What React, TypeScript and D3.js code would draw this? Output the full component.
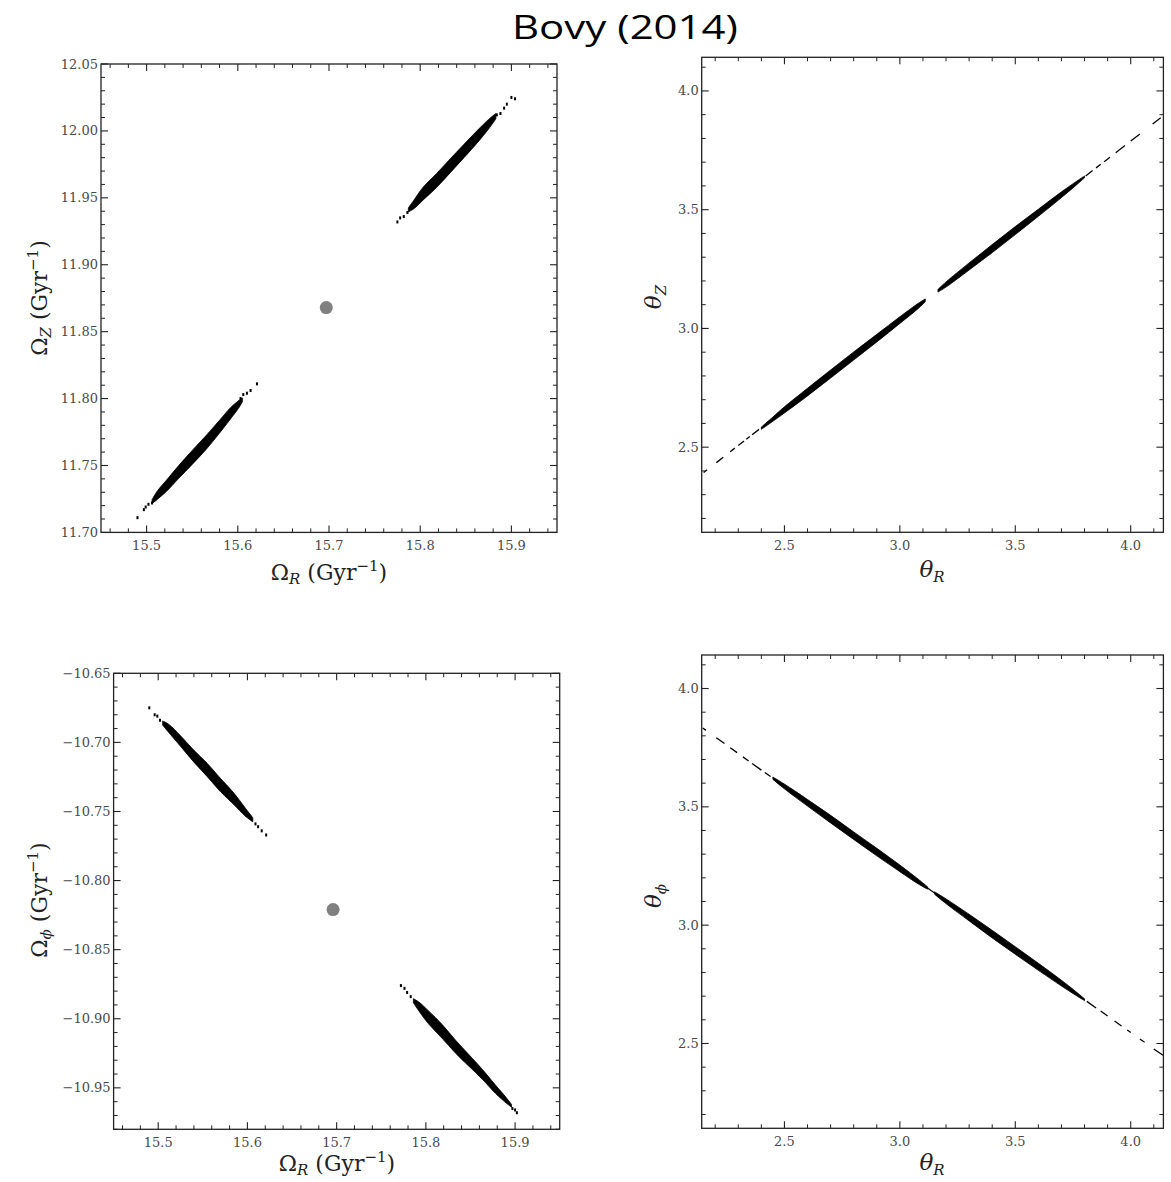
import React from "react";
import * as d3 from "d3";

const W = 1171;
const H = 1182;
const PI = Math.PI;

// ---------- tick labels ----------
const omegaRTicks = [15.5, 15.6, 15.7, 15.8, 15.9];
const omegaZTicks = [11.7, 11.75, 11.8, 11.85, 11.9, 11.95, 12.0, 12.05];
const omegaPhiTicks = [-10.95, -10.9, -10.85, -10.8, -10.75, -10.7, -10.65];
const thetaTicks = [2.5, 3.0, 3.5, 4.0];

// ---------- progenitor ----------
const progOmegaR = [15.697, 15.696];
const progOmegaZ = 11.868;
const progOmegaPhi = -10.821;

// ---------- frequency-space stream bands: [x, yCentre, halfSpread] ----------
const zLeadBand = [
  [15.506, 11.723, 0.0015], [15.512, 11.728, 0.0032], [15.522, 11.735, 0.0042],
  [15.535, 11.745, 0.0048], [15.55, 11.756, 0.0052], [15.565, 11.767, 0.0052],
  [15.58, 11.779, 0.0048], [15.592, 11.789, 0.0042], [15.6, 11.795, 0.003],
  [15.605, 11.799, 0.0015],
];
const zTrailBand = [
  [15.787, 11.941, 0.0015], [15.793, 11.945, 0.0032], [15.803, 11.953, 0.0048],
  [15.818, 11.963, 0.0052], [15.833, 11.974, 0.0052], [15.848, 11.985, 0.005],
  [15.863, 11.996, 0.0046], [15.875, 12.005, 0.0036], [15.883, 12.011, 0.002],
];
const zSparse = [
  [15.49, 11.711], [15.497, 11.717], [15.499, 11.719], [15.502, 11.721],
  [15.506, 11.722], [15.509, 11.726], [15.603, 11.8], [15.606, 11.803],
  [15.61, 11.804], [15.614, 11.806], [15.621, 11.811],
  [15.775, 11.932], [15.778, 11.935], [15.782, 11.936], [15.786, 11.939],
  [15.884, 12.012], [15.888, 12.013], [15.892, 12.017], [15.895, 12.02],
  [15.9, 12.025], [15.904, 12.024],
];

const phiLeadBand = [
  [15.505, -10.686, 0.0015], [15.512, -10.69, 0.003], [15.525, -10.699, 0.0038],
  [15.54, -10.71, 0.0043], [15.555, -10.72, 0.0048], [15.57, -10.731, 0.0048],
  [15.585, -10.741, 0.0042], [15.597, -10.75, 0.003], [15.606, -10.756, 0.0015],
];
const phiTrailBand = [
  [15.786, -10.887, 0.0015], [15.792, -10.891, 0.0032], [15.803, -10.899, 0.0047],
  [15.818, -10.909, 0.005], [15.833, -10.92, 0.0047], [15.848, -10.93, 0.0042],
  [15.863, -10.94, 0.0036], [15.878, -10.951, 0.003], [15.89, -10.959, 0.002],
  [15.896, -10.963, 0.001],
];
const phiSparse = [
  [15.49, -10.675], [15.496, -10.68], [15.499, -10.681], [15.502, -10.684],
  [15.609, -10.759], [15.612, -10.761], [15.616, -10.764], [15.621, -10.767],
  [15.772, -10.876], [15.776, -10.878], [15.779, -10.881], [15.783, -10.884],
  [15.897, -10.965], [15.9, -10.966], [15.902, -10.968],
];

// ---------- angle-space stream bands: [thetaR, thetaCentre, halfSpread] ----------
const thZLower = [
  [2.4, 2.58, 0.005], [2.45, 2.618, 0.009], [2.5, 2.657, 0.013], [2.6, 2.732, 0.016],
  [2.7, 2.808, 0.017], [2.8, 2.884, 0.017], [2.9, 2.959, 0.016], [3.0, 3.035, 0.014],
  [3.08, 3.095, 0.011], [3.11, 3.118, 0.006],
];
const thZUpper = [
  [3.165, 3.159, 0.006], [3.2, 3.185, 0.011], [3.3, 3.261, 0.015], [3.4, 3.336, 0.017],
  [3.5, 3.412, 0.017], [3.6, 3.487, 0.015], [3.7, 3.563, 0.012], [3.76, 3.608, 0.008],
  [3.8, 3.638, 0.004],
];
// sparse dashes: [x1, y1, x2, y2]
const thZDashes = [
  [2.15, 2.393, 2.165, 2.405], [2.205, 2.435, 2.235, 2.458], [2.265, 2.481, 2.285, 2.496],
  [2.3, 2.507, 2.325, 2.526], [2.335, 2.533, 2.35, 2.545], [2.36, 2.552, 2.39, 2.575],
  [3.805, 3.642, 3.835, 3.665], [3.85, 3.676, 3.87, 3.691], [3.885, 3.702, 3.91, 3.721],
  [3.935, 3.74, 3.975, 3.77], [4.0, 3.789, 4.04, 3.819], [4.095, 3.861, 4.13, 3.887],
];

const thPhiLower = [
  [2.45, 3.621, 0.005], [2.5, 3.586, 0.01], [2.6, 3.517, 0.014], [2.7, 3.448, 0.016],
  [2.8, 3.378, 0.016], [2.9, 3.309, 0.016], [3.0, 3.24, 0.014], [3.08, 3.184, 0.01],
  [3.12, 3.157, 0.005],
];
const thPhiUpper = [
  [3.15, 3.136, 0.005], [3.2, 3.101, 0.01], [3.3, 3.032, 0.014], [3.4, 2.962, 0.016],
  [3.5, 2.893, 0.016], [3.6, 2.824, 0.015], [3.7, 2.755, 0.012], [3.76, 2.713, 0.008],
  [3.8, 2.685, 0.004],
];
const thPhiDashes = [
  [2.146, 3.833, 2.16, 3.823], [2.205, 3.792, 2.24, 3.768], [2.265, 3.75, 2.295, 3.729],
  [2.32, 3.711, 2.345, 3.694], [2.36, 3.683, 2.4, 3.655], [2.415, 3.645, 2.44, 3.628],
  [3.12, 3.157, 3.15, 3.136],
  [3.81, 2.678, 3.85, 2.65], [3.87, 2.637, 3.9, 2.616], [3.93, 2.595, 3.96, 2.574],
  [3.985, 2.557, 4.0, 2.546], [4.04, 2.519, 4.06, 2.505], [4.1, 2.477, 4.14, 2.45],
];

type Scale = d3.ScaleLinear<number, number>;

function minorTicks(domain: number[], step: number, majors: number[]) {
  const lo = Math.min(domain[0], domain[1]);
  const hi = Math.max(domain[0], domain[1]);
  const out: number[] = [];
  for (let i = Math.ceil(lo / step - 1e-6); i <= Math.floor(hi / step + 1e-6); i++) {
    const v = i * step;
    if (!majors.some((m) => Math.abs(m - v) < step / 10)) out.push(v);
  }
  return out;
}

const TICK_FONT = "'DejaVu Serif', serif";
const LABEL_FONT = "'DejaVu Serif', serif";

function Panel(props: {
  id: string;
  xs: Scale;
  ys: Scale;
  xMajor: number[];
  yMajor: number[];
  xMinorStep: number;
  yMinorStep: number;
  xFmt: (v: number) => string;
  yFmt: (v: number) => string;
  children: React.ReactNode;
}) {
  const { id, xs, ys, xMajor, yMajor, xMinorStep, yMinorStep, xFmt, yFmt } = props;
  const [x0, x1] = xs.range();
  const [y0, y1] = ys.range(); // y0 bottom, y1 top
  const xMinor = minorTicks(xs.domain(), xMinorStep, xMajor);
  const yMinor = minorTicks(ys.domain(), yMinorStep, yMajor);
  const MJ = 7;
  const MN = 4;
  const tickStroke = "#222";
  return (
    <g>
      <defs>
        <clipPath id={id}>
          <rect x={x0} y={y1} width={x1 - x0} height={y0 - y1} />
        </clipPath>
      </defs>
      <g clipPath={`url(#${id})`}>{props.children}</g>
      <rect x={x0} y={y1} width={x1 - x0} height={y0 - y1} fill="none" stroke="#222" strokeWidth={1.3} />
      {xMajor.map((v) => (
        <g key={"xm" + v}>
          <line x1={xs(v)} x2={xs(v)} y1={y0} y2={y0 - MJ} stroke={tickStroke} strokeWidth={1.1} />
          <line x1={xs(v)} x2={xs(v)} y1={y1} y2={y1 + MJ} stroke={tickStroke} strokeWidth={1.1} />
          <text x={xs(v)} y={y0 + 18} textAnchor="middle" fontFamily={TICK_FONT} fontSize={13} fill="#4a4a4a">
            {xFmt(v)}
          </text>
        </g>
      ))}
      {xMinor.map((v) => (
        <g key={"xn" + v}>
          <line x1={xs(v)} x2={xs(v)} y1={y0} y2={y0 - MN} stroke={tickStroke} strokeWidth={1} />
          <line x1={xs(v)} x2={xs(v)} y1={y1} y2={y1 + MN} stroke={tickStroke} strokeWidth={1} />
        </g>
      ))}
      {yMajor.map((v) => (
        <g key={"ym" + v}>
          <line x1={x0} x2={x0 + MJ} y1={ys(v)} y2={ys(v)} stroke={tickStroke} strokeWidth={1.1} />
          <line x1={x1} x2={x1 - MJ} y1={ys(v)} y2={ys(v)} stroke={tickStroke} strokeWidth={1.1} />
          <text x={x0 - 3} y={ys(v) + 4.5} textAnchor="end" fontFamily={TICK_FONT} fontSize={13} fill="#4a4a4a">
            {yFmt(v)}
          </text>
        </g>
      ))}
      {yMinor.map((v) => (
        <g key={"yn" + v}>
          <line x1={x0} x2={x0 + MN} y1={ys(v)} y2={ys(v)} stroke={tickStroke} strokeWidth={1} />
          <line x1={x1} x2={x1 - MN} y1={ys(v)} y2={ys(v)} stroke={tickStroke} strokeWidth={1} />
        </g>
      ))}
    </g>
  );
}

function Band({ data, xs, ys }: { data: number[][]; xs: Scale; ys: Scale }) {
  const area = d3
    .area<number[]>()
    .x((d) => xs(d[0]))
    .y0((d) => ys(d[1] - d[2]))
    .y1((d) => ys(d[1] + d[2]))
    .curve(d3.curveCatmullRom);
  return <path d={area(data) || ""} fill="#000" stroke="#000" strokeWidth={0.8} />;
}

function Dots({ data, xs, ys }: { data: number[][]; xs: Scale; ys: Scale }) {
  return (
    <g>
      {data.map((d, i) => (
        <rect key={i} x={xs(d[0]) - 1} y={ys(d[1]) - 1.5} width={2} height={3} fill="#000" />
      ))}
    </g>
  );
}

function Dashes({ data, xs, ys }: { data: number[][]; xs: Scale; ys: Scale }) {
  return (
    <g>
      {data.map((d, i) => (
        <line key={i} x1={xs(d[0])} y1={ys(d[1])} x2={xs(d[2])} y2={ys(d[3])} stroke="#000" strokeWidth={1.3} />
      ))}
    </g>
  );
}

function OmegaLabel({ sub, x, y, rotate }: { sub: string; x: number; y: number; rotate?: boolean }) {
  return (
    <text
      x={x}
      y={y}
      textAnchor="middle"
      fontFamily={LABEL_FONT}
      fontSize={22}
      fill="#222"
      transform={rotate ? `rotate(-90 ${x} ${y})` : undefined}
    >
      <tspan>Ω</tspan>
      <tspan fontStyle="italic" fontSize={15} dy={4}>{sub}</tspan>
      <tspan dy={-4}> (Gyr</tspan>
      <tspan fontSize={15} dy={-9}>−1</tspan>
      <tspan dy={9}>)</tspan>
    </text>
  );
}

function ThetaLabel({ sub, x, y, rotate }: { sub: string; x: number; y: number; rotate?: boolean }) {
  return (
    <text
      x={x}
      y={y}
      textAnchor="middle"
      fontFamily={LABEL_FONT}
      fontSize={23}
      fill="#222"
      transform={rotate ? `rotate(-90 ${x} ${y})` : undefined}
    >
      <tspan fontStyle="italic">θ</tspan>
      <tspan fontStyle="italic" fontSize={15} dy={5}>{sub}</tspan>
    </text>
  );
}

export default function App() {
  // panel scales
  const tlX = d3.scaleLinear().domain([15.45, 15.95]).range([101, 557]);
  const tlY = d3.scaleLinear().domain([11.7, 12.05]).range([532.4, 64]);
  const blX = d3.scaleLinear().domain([15.45, 15.95]).range([113.6, 559.7]);
  const blY = d3.scaleLinear().domain([-10.98, -10.65]).range([1129.3, 673.3]);
  const trX = d3.scaleLinear().domain([PI - 1, PI + 1]).range([701.7, 1163.4]);
  const trY = d3.scaleLinear().domain([PI - 1, PI + 1]).range([532.3, 57.3]);
  const brX = d3.scaleLinear().domain([PI - 1, PI + 1]).range([701.7, 1163.4]);
  const brY = d3.scaleLinear().domain([PI - 1, PI + 1]).range([1128.3, 655]);

  const f1 = (v: number) => v.toFixed(1);
  const f2 = (v: number) => v.toFixed(2).replace("-", "−");

  return (
    <div style={{ position: "absolute", left: 0, top: 0 }}>
      <svg width={W} height={H} viewBox={`0 0 ${W} ${H}`} style={{ display: "block", background: "#fff" }}>
        <rect width={W} height={H} fill="#fff" />
        <text
          x={625}
          y={39}
          textAnchor="middle"
          fontFamily="'Open Sans', 'Noto Sans', sans-serif"
          fontSize={33}
          fill="#000"
          textLength={226}
          lengthAdjust="spacingAndGlyphs"
        >
          Bovy (2014)
        </text>

        {/* Top-left: Omega_R vs Omega_Z */}
        <Panel id="c-tl" xs={tlX} ys={tlY} xMajor={omegaRTicks} yMajor={omegaZTicks}
          xMinorStep={0.02} yMinorStep={0.01} xFmt={f1} yFmt={f2}>
          <Band data={zLeadBand} xs={tlX} ys={tlY} />
          <Band data={zTrailBand} xs={tlX} ys={tlY} />
          <Dots data={zSparse} xs={tlX} ys={tlY} />
          <circle cx={tlX(progOmegaR[0])} cy={tlY(progOmegaZ)} r={6.5} fill="#808080" />
        </Panel>
        <OmegaLabel sub="R" x={329} y={580} />
        <OmegaLabel sub="Z" x={47} y={298} rotate />

        {/* Top-right: theta_R vs theta_Z */}
        <Panel id="c-tr" xs={trX} ys={trY} xMajor={thetaTicks} yMajor={thetaTicks}
          xMinorStep={0.1} yMinorStep={0.1} xFmt={f1} yFmt={f1}>
          <Band data={thZLower} xs={trX} ys={trY} />
          <Band data={thZUpper} xs={trX} ys={trY} />
          <Dashes data={thZDashes} xs={trX} ys={trY} />
        </Panel>
        <ThetaLabel sub="R" x={932} y={577} />
        <ThetaLabel sub="Z" x={661} y={297} rotate />

        {/* Bottom-left: Omega_R vs Omega_phi */}
        <Panel id="c-bl" xs={blX} ys={blY} xMajor={omegaRTicks} yMajor={omegaPhiTicks}
          xMinorStep={0.02} yMinorStep={0.01} xFmt={f1} yFmt={f2}>
          <Band data={phiLeadBand} xs={blX} ys={blY} />
          <Band data={phiTrailBand} xs={blX} ys={blY} />
          <Dots data={phiSparse} xs={blX} ys={blY} />
          <circle cx={blX(progOmegaR[1])} cy={blY(progOmegaPhi)} r={6.5} fill="#808080" />
        </Panel>
        <OmegaLabel sub="R" x={337} y={1171} />
        <OmegaLabel sub="ϕ" x={47} y={900} rotate />

        {/* Bottom-right: theta_R vs theta_phi */}
        <Panel id="c-br" xs={brX} ys={brY} xMajor={thetaTicks} yMajor={thetaTicks}
          xMinorStep={0.1} yMinorStep={0.1} xFmt={f1} yFmt={f1}>
          <Band data={thPhiLower} xs={brX} ys={brY} />
          <Band data={thPhiUpper} xs={brX} ys={brY} />
          <Dashes data={thPhiDashes} xs={brX} ys={brY} />
        </Panel>
        <ThetaLabel sub="R" x={932} y={1170} />
        <ThetaLabel sub="ϕ" x={661} y={896} rotate />
      </svg>
    </div>
  );
}
